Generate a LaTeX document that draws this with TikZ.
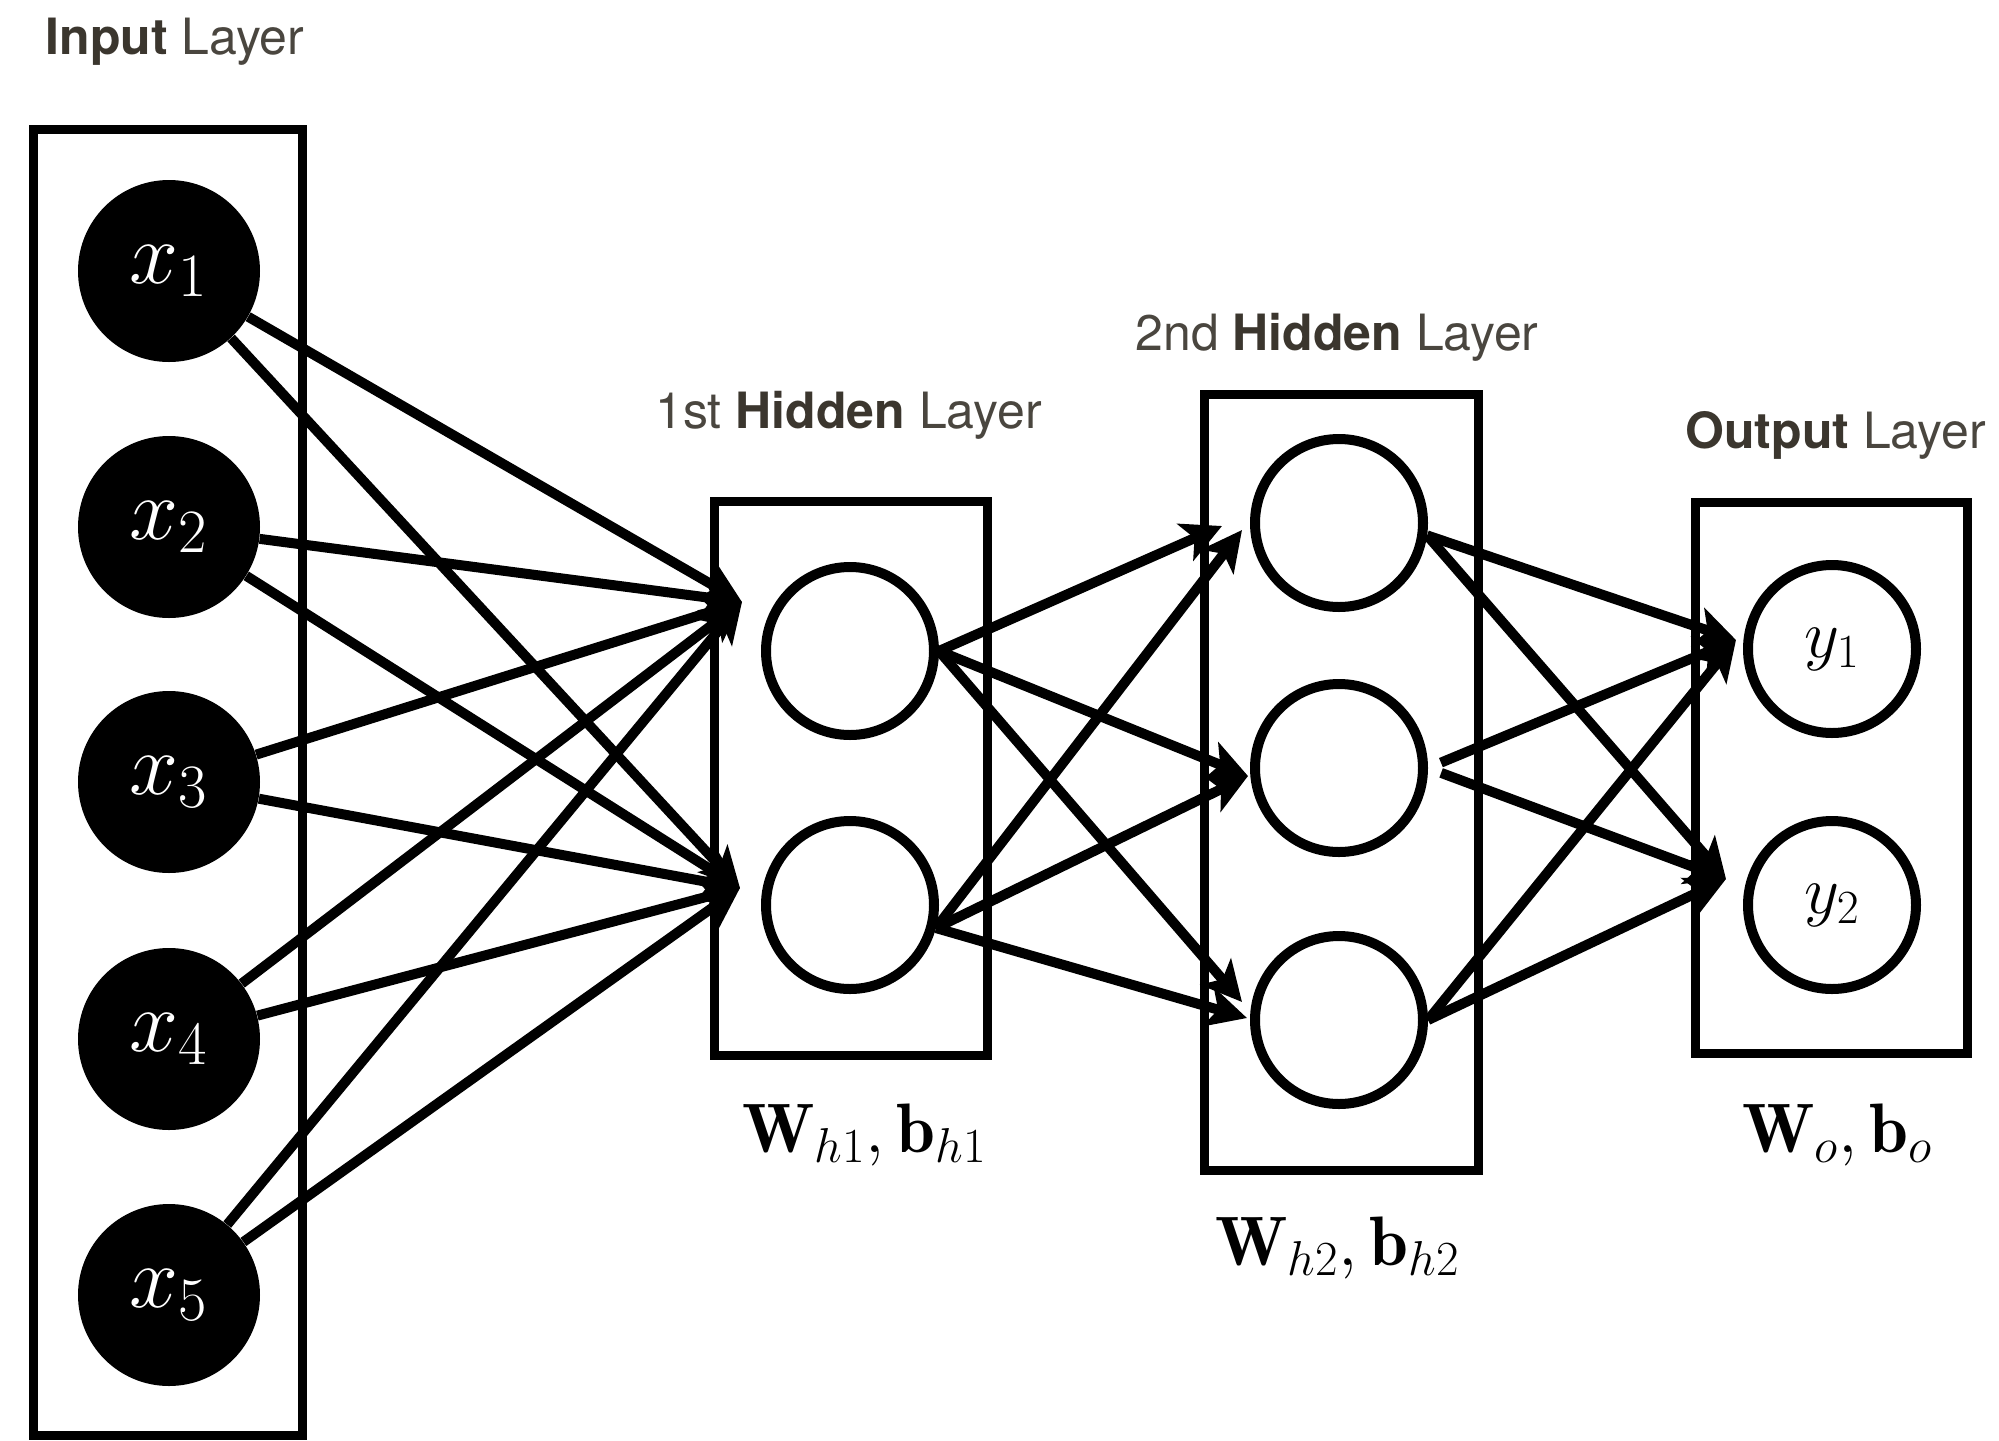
\RequirePackage{fix-cm}
\documentclass[tikz,border=0pt]{standalone}
\usepackage{fontspec}
\newfontfamily\heros{TeX Gyre Heros}
\usetikzlibrary{arrows.meta}
\definecolor{tbold}{HTML}{3B362E}
\definecolor{treg}{HTML}{4A463F}
\begin{document}
\begin{tikzpicture}[x=0.5pt,y=-0.5pt,
  layerbox/.style={line width=4.5pt},
  inputnode/.style={circle,fill=black,inner sep=0pt,minimum size=91pt,text=white,font=\fontsize{44}{52}\selectfont},
  hidnode/.style={circle,draw=black,line width=5pt,fill=white,inner sep=0pt,minimum size=84pt},
  outnode/.style={hidnode,font=\fontsize{34}{40}\selectfont},
  conn/.style={line width=5pt,-{Stealth[length=20pt,width=20pt,inset=5pt]}},
  title/.style={anchor=base west,inner sep=0pt,font=\heros\fontsize{25}{30}\selectfont,text=treg},
  wlabel/.style={anchor=base west,inner sep=0pt,font=\fontsize{35}{42}\selectfont}
]
\useasboundingbox (0,0) rectangle (1999,1441);

% layer boxes
\draw[layerbox] (33,129) rectangle (302,1435);
\draw[layerbox] (714,501) rectangle (987,1055);
\draw[layerbox] (1204,394) rectangle (1478,1170);
\draw[layerbox] (1695,502) rectangle (1967,1053);

% nodes
\node[inputnode] (x1) at (169,271) {$x_1$};
\node[inputnode] (x2) at (169,527) {$x_2$};
\node[inputnode] (x3) at (169,782) {$x_3$};
\node[inputnode] (x4) at (169,1039) {$x_4$};
\node[inputnode] (x5) at (169,1295) {$x_5$};

\node[hidnode] (h1a) at (850,651) {};
\node[hidnode] (h1b) at (850,905) {};

\node[hidnode] (h2a) at (1339,523) {};
\node[hidnode] (h2b) at (1339,768) {};
\node[hidnode] (h2c) at (1339,1020) {};

\node[outnode] (y1) at (1832,649) {$y_1$};
\node[outnode] (y2) at (1832,905) {$y_2$};

% arrow tip points
\coordinate (ta) at (742,602);
\coordinate (tb) at (740,888);
\coordinate (tc1) at (1222,526);
\coordinate (tc2) at (1242,530);
\coordinate (td) at (1248,776);
\coordinate (te1) at (1242,1002);
\coordinate (te2) at (1247,1018);
\coordinate (tf) at (1736,640);
\coordinate (tg) at (1726,879);

% connectors
\foreach \i in {1,...,5}{
  \draw[conn] (x\i) -- (ta);
  \draw[conn] (x\i) -- (tb);
}
\draw[conn] (h1a.east) -- (tc1);
\draw[conn] (h1a.east) -- (td);
\draw[conn] (h1a.east) -- (te1);
\draw[conn] (h1b.-15) -- (tc2);
\draw[conn] (h1b.-15) -- (td);
\draw[conn] (h1b.-15) -- (te2);
\draw[conn] (h2a.-8) -- (tf);
\draw[conn] (h2a.-8) -- (tg);
\draw[conn,shorten <=7pt] (h2b.east) -- (tf);
\draw[conn,shorten <=7pt] (h2b.east) -- (tg);
\draw[conn] (h2c.east) -- (tf);
\draw[conn] (h2c.east) -- (tg);

% titles
\node[title] (tin) at (45,54) {{\color{tbold}\bfseries Input} Layer};
\node[title] (th1) at (655,428) {1st {\color{tbold}\bfseries Hidden} Layer};
\node[title] (th2) at (1135,350) {2nd {\color{tbold}\bfseries Hidden} Layer};
\node[title] (tout) at (1685,448) {{\color{tbold}\bfseries Output} Layer};

% parameter labels
\node[wlabel] (lw1) at (742,1152) {$\mathbf{W}_{h1},\mathbf{b}_{h1}$};
\node[wlabel] (lw2) at (1215,1265) {$\mathbf{W}_{h2},\mathbf{b}_{h2}$};
\node[wlabel] (lwo) at (1742,1152) {$\mathbf{W}_{o},\mathbf{b}_{o}$};
\end{tikzpicture}
\end{document}
